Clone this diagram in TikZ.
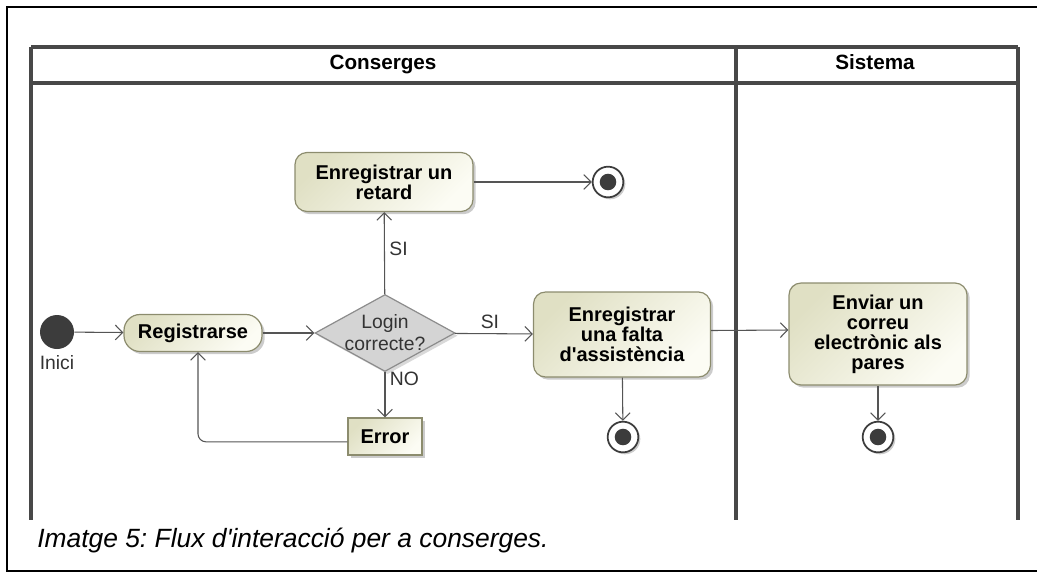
\documentclass[tikz,border=0pt]{standalone}
\usepackage{fontspec}
\setmainfont{Liberation Sans}
\usepackage{tikz}
\usetikzlibrary{positioning, arrows.meta, shapes.geometric, shadows}
\frenchspacing

\definecolor{boxedge}{RGB}{140,140,110}
\definecolor{boxdark}{RGB}{224,224,196}
\definecolor{boxlight}{RGB}{252,252,244}
\definecolor{lanecol}{RGB}{72,72,72}
\definecolor{flowcol}{RGB}{85,85,85}
\definecolor{dotcol}{RGB}{60,60,60}

\begin{document}
\begin{tikzpicture}[x=0.75pt, y=-0.75pt,
    action/.style={draw=boxedge, line width=0.9pt, rounded corners=9pt, top color=boxdark, bottom color=boxlight, shading angle=45,
        drop shadow={shadow xshift=2pt, shadow yshift=-2pt, fill=black, opacity=0.2},
        align=center, inner sep=0pt, font=\fontsize{15}{15}\selectfont\bfseries},
    final/.style={circle, draw=dotcol, line width=1.3pt, fill=white, minimum size=23pt, inner sep=0pt,
        drop shadow={shadow xshift=1.5pt, shadow yshift=-1.5pt, fill=black, opacity=0.2},
        path picture={\fill[dotcol] (path picture bounding box.center) circle (6.2pt);}},
    flow/.style={draw=flowcol, line width=0.8pt, -{Straight Barb[length=5.5pt, width=11pt]}},
    guard/.style={text=black!80, font=\fontsize{14.5}{16.5}\selectfont},
    lane/.style={draw=lanecol, line width=2.6pt},
    lanehead/.style={anchor=base, font=\fontsize{15.5}{16}\selectfont\bfseries}]

    \useasboundingbox (0,0) rectangle (1037,572);
    % outer frame
    \draw[line width=2pt] (1040,7) -- (7,7) -- (7,571) -- (1040,571);

    % swimlanes
    \draw[lane] (31,47) -- (1018,47);
    \draw[lane] (31,83) -- (1018,83);
    \draw[lane] (31,47) -- (31,520);
    \draw[lane] (736,47) -- (736,520);
    \draw[lane] (1018,47) -- (1018,520);
    \node[lanehead] (conserges) at (383,69) {Conserges};
    \node[lanehead] (sistema) at (875,69) {Sistema};

    % nodes
    \node[circle, fill=dotcol, minimum size=25.5pt, inner sep=0pt,
        label={[guard, yshift=-1pt]below:Inici}] (inici) at (57,332) {};
    \node[action, rounded corners=12pt, minimum width=103.5pt, minimum height=27.75pt] (reg) at (193,333) {Registrarse};
    \node[diamond, draw=black!45, line width=0.9pt, fill=black!17, minimum width=105pt, minimum height=57.75pt, inner sep=0pt,
        drop shadow={shadow xshift=2pt, shadow yshift=-2pt, fill=black, opacity=0.15},
        label={[guard, align=center]center:Login\\correcte?}] (login) at (385,333) {};
    \node[action, minimum width=133.5pt, minimum height=44.25pt] (retard) at (384,182) {Enregistrar un\\retard};
    \node[final] (fi1) at (608,182) {};
    \node[action, rounded corners=0pt, minimum width=55.5pt, minimum height=27.75pt] (error) at (385,436.5) {Error};
    \node[action, minimum width=132.75pt, minimum height=63.75pt] (falta) at (622,334.5) {Enregistrar\\una falta\\d\textquotesingle assistència};
    \node[final] (fi2) at (623,437) {};
    \node[action, minimum width=133.5pt, minimum height=76.5pt] (enviar) at (878,334) {Enviar un\\correu\\electrònic als\\pares};
    \node[final] (fi3) at (878,437) {};

    % flows
    \draw[flow] (inici) -- (reg);
    \draw[flow] (reg) -- (login);
    \draw[flow] (login) -- node[guard, right, pos=0.55] {SI} (retard);
    \draw[flow] (retard) -- (fi1);
    \draw[flow] (login) -- node[guard, above, pos=0.45] {SI} (falta);
    \draw[flow] (login) -- node[guard, right, pos=0.15] {NO} (error);
    \draw[flow, rounded corners=6pt] ([yshift=-4pt]error.west) -| ([xshift=3.75pt]reg.south);
    \draw[flow] ([yshift=3pt]falta.east) -- ([yshift=3pt]enviar.west);
    \draw[flow] (falta) -- (fi2);
    \draw[flow] (enviar) -- (fi3);

    % caption
    \node[anchor=west, inner sep=0pt, font=\fontsize{19.8}{22}\selectfont\itshape] (caption) at (37,541) {Imatge 5: Flux d\textquotesingle interacció per a conserges.};
\end{tikzpicture}
\end{document}
